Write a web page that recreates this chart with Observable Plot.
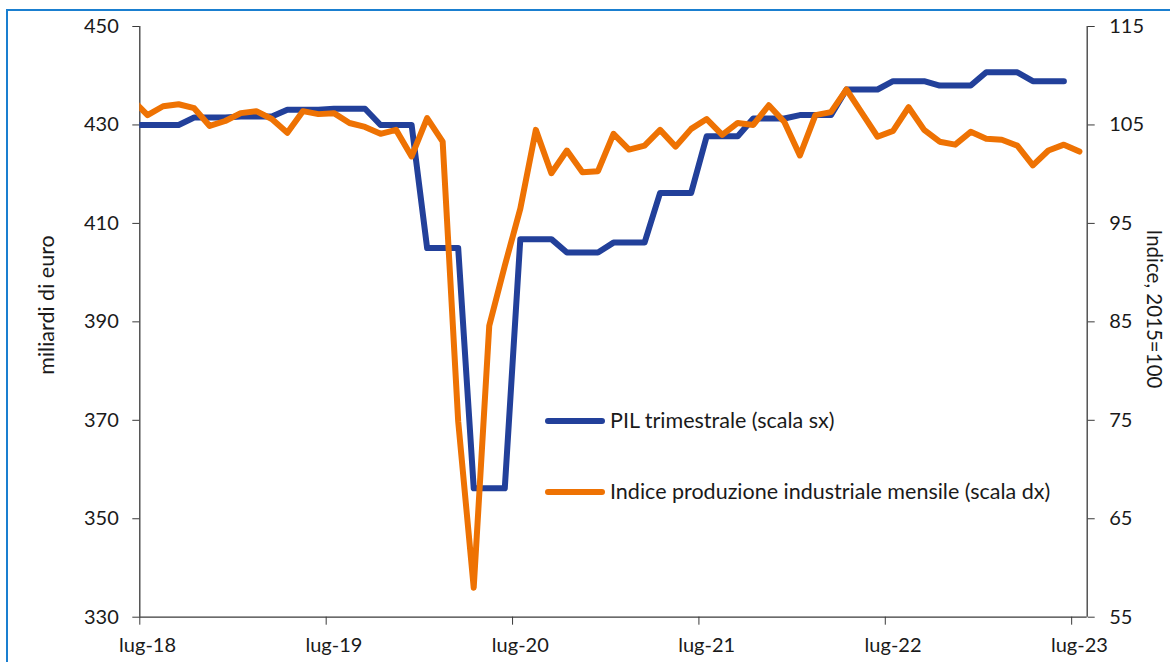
<!DOCTYPE html>
<html>
<head>
<meta charset="utf-8">
<script src="https://cdn.jsdelivr.net/npm/d3@7"></script>
<script src="https://cdn.jsdelivr.net/npm/@observablehq/plot@0.6"></script>
<style>
  html, body { margin: 0; padding: 0; background: #fff; width: 1170px; height: 662px; overflow: hidden; }
  #wrap { position: relative; width: 1170px; height: 662px; font-family: Lato, "Open Sans", sans-serif; color: #1a1a1a; }
  #frame { position: absolute; left: 6px; top: 9px; width: 1400px; height: 900px; border-left: 2px solid #1a7fd0; border-top: 2px solid #1a7fd0; }
  #chart { position: absolute; left: 0; top: 0; }
  .ttl { position: absolute; font-size: 21.5px; line-height: 22px; white-space: nowrap; }
  #ttlR { font-size: 20.5px; line-height: 20px; }
  .leg-line { position: absolute; height: 6px; border-radius: 3px; }
  .leg-text { position: absolute; font-size: 21.5px; line-height: 22px; white-space: nowrap; }
</style>
</head>
<body>
<div id="wrap">
  <div id="frame"></div>
  <div id="chart"></div>
  <div class="ttl" id="ttlL">miliardi di euro</div>
  <div class="ttl" id="ttlR">Indice, 2015=100</div>
  <div class="leg-line" id="legL1"></div>
  <div class="leg-text" id="legT1"></div>
  <div class="leg-line" id="legL2"></div>
  <div class="leg-text" id="legT2"></div>
</div>
<script>
// ---- Data ----
// Quarterly GDP, billions of euro (left scale), Q2-2018 .. Q2-2023
const pilQuarters = ["T2-18","T3-18","T4-18","T1-19","T2-19","T3-19","T4-19","T1-20","T2-20","T3-20","T4-20",
                     "T1-21","T2-21","T3-21","T4-21","T1-22","T2-22","T3-22","T4-22","T1-23","T2-23"];
const pilValues = [430.0, 430.0, 431.5, 431.7, 433.1, 433.3, 430.0, 405.0, 356.2, 406.8, 404.1,
                   406.1, 416.2, 427.7, 431.3, 432.0, 437.2, 438.9, 438.0, 440.7, 438.9];

// Monthly industrial production index, 2015=100 (right scale), Jun-2018 .. Jul-2023
const ipiStart = "2018-06";
const ipiValues = [107.6, 106.0, 106.9, 107.1, 106.7, 104.9, 105.4,
  106.2, 106.4, 105.6, 104.2, 106.4, 106.1, 106.2, 105.2, 104.8, 104.1, 104.5, 101.8,
  105.7, 103.3, 74.9, 58.0, 84.6, 90.7, 96.5, 104.5, 100.1, 102.4, 100.2, 100.3,
  104.1, 102.5, 102.9, 104.5, 102.8, 104.6, 105.6, 104.0, 105.2, 105.0, 107.0, 105.3,
  101.9, 106.0, 106.3, 108.6, 106.2, 103.8, 104.4, 106.8, 104.5, 103.3, 103.0, 104.3,
  103.6, 103.5, 102.9, 100.9, 102.4, 103.0, 102.3];

const xTickLabels = ["lug-18","lug-19","lug-20","lug-21","lug-22","lug-23"];
const leftTicks = [330, 350, 370, 390, 410, 430, 450];
const rightTicks = [55, 65, 75, 85, 95, 105, 115];
const seriesNames = ["PIL trimestrale (scala sx)", "Indice produzione industriale mensile (scala dx)"];
const colors = ["#22409a", "#ee7203"];

// ---- Build tables ----
// x = months since 1 Jul 2018, points plotted at the middle of each month
const startMonthOffset = -1; // Jun-2018 is one month before Jul-2018
const ipiData = ipiValues.map((v, k) => ({x: k + startMonthOffset + 0.5, v}));
// quarterly GDP held for each month of its quarter (Jun-2018 .. Jun-2023)
const pilData = [];
for (let k = 0; k <= 60; k++) {
  const q = Math.floor((k + 5) / 3) - 1; // calendar month (Jun=5) -> quarter index from T2-18
  pilData.push({x: k + startMonthOffset + 0.5, v: pilValues[q]});
}
const yRight = d3.scaleLinear([55, 115], [330, 450]);

const axisColor = "#3a3a3a";
const chart = Plot.plot({
  width: 1170,
  height: 662,
  marginLeft: 139.3,
  marginRight: 83.3,
  marginTop: 26,
  marginBottom: 45.3,
  style: {fontFamily: "Lato, 'Open Sans', sans-serif", fontSize: "20px", color: "#1a1a1a", background: "transparent"},
  x: {type: "linear", domain: [0, 61], label: null},
  y: {domain: [330, 450], label: null},
  marks: [
    Plot.ruleY([330], {stroke: axisColor, strokeWidth: 1.3}),
    Plot.ruleX([0, 61], {stroke: axisColor, strokeWidth: 1.3}),
    Plot.axisY(leftTicks, {anchor: "left", tickSize: 7, tickPadding: 14, stroke: axisColor, label: null, tickFormat: d => String(d)}),
    Plot.axisY(rightTicks.map(yRight), {anchor: "right", tickSize: 7, tickPadding: 15, stroke: axisColor, label: null,
      tickFormat: d => String(Math.round(yRight.invert(d)))}),
    Plot.axisX(d3.range(0, 61, 12), {anchor: "bottom", tickSize: 8, stroke: axisColor, label: null, tickFormat: () => ""}),
    Plot.axisX(d3.range(0, 61, 12).map(d => d + 0.5), {anchor: "bottom", tickSize: 0, tickPadding: 21, label: null,
      tickFormat: d => xTickLabels[Math.round((d - 0.5) / 12)]}),
    Plot.line(pilData, {x: "x", y: "v", stroke: colors[0], strokeWidth: 6, strokeLinejoin: "round", strokeLinecap: "round", clip: true}),
    Plot.line(ipiData, {x: "x", y: d => yRight(d.v), stroke: colors[1], strokeWidth: 6, strokeLinejoin: "round", strokeLinecap: "round", clip: true})
  ]
});
document.getElementById("chart").appendChild(chart);

// ---- Titles and legend (HTML overlays) ----
const ttlL = document.getElementById("ttlL");
ttlL.style.left = "46px"; ttlL.style.top = "305px";
ttlL.style.transform = "translate(-50%,-50%) rotate(-90deg)";
const ttlR = document.getElementById("ttlR");
ttlR.style.left = "1155px"; ttlR.style.top = "309px";
ttlR.style.transform = "translate(-50%,-50%) rotate(90deg)";

const legY = [420.7, 492.3];
[["legL1","legT1"],["legL2","legT2"]].forEach(([l, t], i) => {
  const line = document.getElementById(l);
  line.style.left = "545px"; line.style.width = "60px";
  line.style.top = (legY[i] - 3) + "px"; line.style.background = colors[i];
  const txt = document.getElementById(t);
  txt.textContent = seriesNames[i];
  txt.style.left = "610px"; txt.style.top = (legY[i] + 7 - 19.2) + "px";
});
</script>
</body>
</html>
